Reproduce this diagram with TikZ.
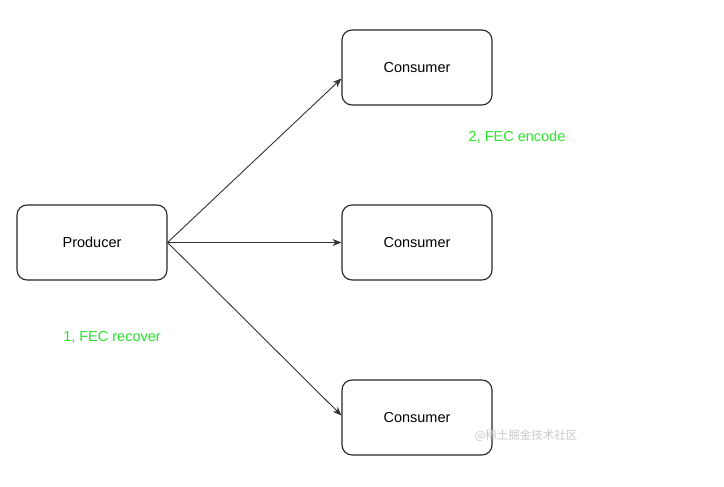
\documentclass[tikz,border=0pt]{standalone}
\usepackage{fontspec}
\setmainfont{Liberation Sans}
\newfontfamily\cjk{Noto Sans CJK SC}
\usetikzlibrary{arrows.meta}
\definecolor{fecgreen}{RGB}{40,228,40}
\definecolor{wmgray}{RGB}{200,200,200}
\begin{document}
\begin{tikzpicture}[x=1pt,y=-1pt,
  box/.style={draw=black!85,line width=1.1pt,rounded corners=10pt,minimum width=150pt,minimum height=75pt,inner sep=0pt,font=\fontsize{14.5}{16}\selectfont},
  conn/.style={draw=black!80,line width=0.9pt,-{Stealth[length=9pt,width=7pt]}},
  note/.style={text=fecgreen,font=\fontsize{14.5}{16}\selectfont,inner sep=0pt}]
\useasboundingbox (0,0) rectangle (724,487);
\node[box] (p) at (92,242.5) {Producer};
\node[box] (c1) at (417,67.5) {Consumer};
\node[box] (c2) at (417,242.5) {Consumer};
\node[box] (c3) at (417,417.5) {Consumer};
\coordinate (t1) at ([yshift=-11pt]c1.west);
\coordinate (t3) at ([yshift=2pt]c3.west);
\draw[conn] (p.east) -- (t1);
\draw[conn] (p.east) -- (c2.west);
\draw[conn] (p.east) -- (t3);
\node[note] (n2) at (517,137) {2, FEC encode};
\node[note] (n1) at (112,337) {1, FEC recover};
\node[text=wmgray,font=\cjk\fontsize{11.5}{13}\selectfont,inner sep=0pt] (wm) at (526,436) {@稀土掘金技术社区};
\end{tikzpicture}
\end{document}
